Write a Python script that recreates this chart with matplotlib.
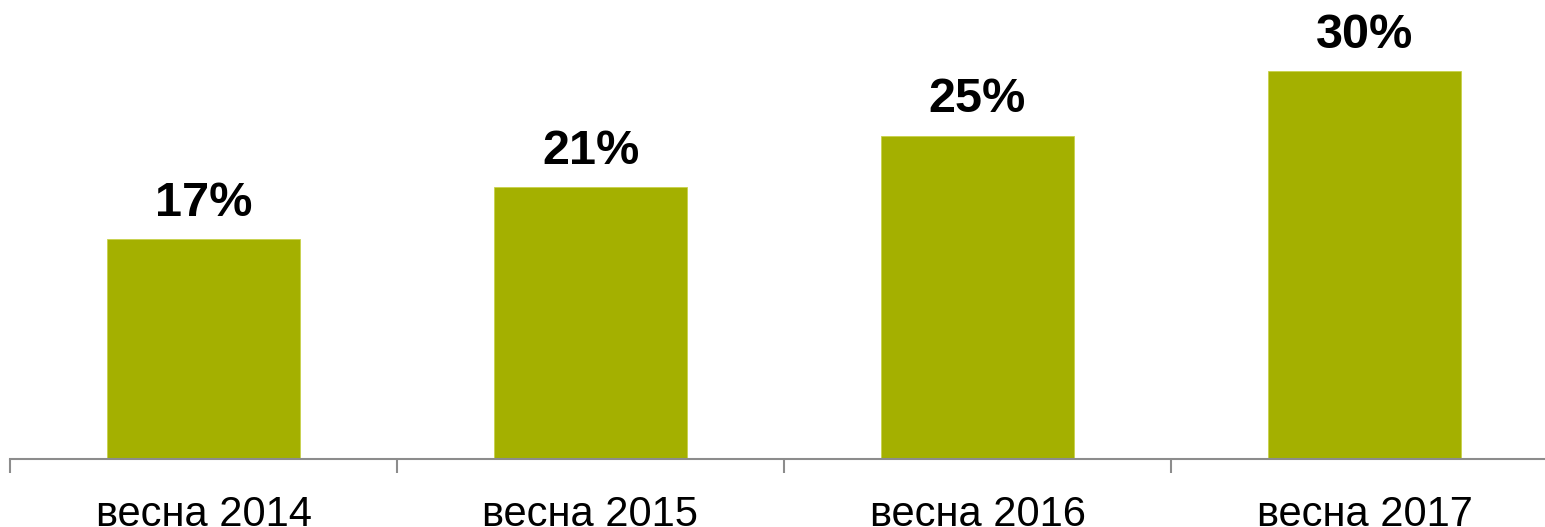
import numpy as np
import matplotlib.pyplot as plt

categories = ["весна 2014", "весна 2015", "весна 2016", "весна 2017"]
values = [17, 21, 25, 30]
labels = ["17%", "21%", "25%", "30%"]

plt.rcParams['font.family'] = ['Liberation Sans', 'DejaVu Sans']

fig = plt.figure(figsize=(15.45, 5.27), dpi=100)
ax = fig.add_axes([10/1545, 1 - 459/527, 1548/1545, 459/527])

x = np.arange(len(categories))
ax.bar(x, values, width=0.5, color="#A4B000", edgecolor="#C8D24A", linewidth=0.6)

for xi, v, lab in zip(x, values, labels):
    ax.annotate(lab, (xi, v), xytext=(0, 17), textcoords="offset points",
                ha="center", va="baseline", fontsize=35, fontweight="bold")

ax.set_xlim(-0.5, 3.5)
ax.set_ylim(0, 35.5)

for s in ["top", "right", "left"]:
    ax.spines[s].set_visible(False)
ax.spines["bottom"].set_color("#8c8c8c")
ax.spines["bottom"].set_linewidth(1.5)

ax.set_yticks([])
ax.set_xticks(x)
ax.set_xticklabels(categories, fontsize=30)
ax.tick_params(axis="x", which="major", length=0, pad=26)
ax.set_xticks(np.arange(-0.5, 4, 1), minor=True)
ax.tick_params(axis="x", which="minor", length=10, width=1.5, color="#8c8c8c")

fig.savefig("out.png", dpi=100)
